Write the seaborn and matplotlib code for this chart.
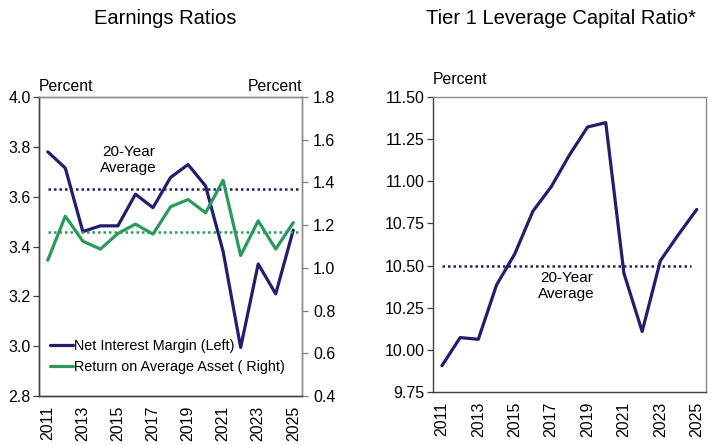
import matplotlib
matplotlib.use("Agg")
import matplotlib.pyplot as plt
import seaborn as sns
import numpy as np
import pandas as pd

# --- data ---
years = list(range(2011, 2026))
nim = [3.78, 3.715, 3.46, 3.483, 3.483, 3.61, 3.556, 3.677, 3.729, 3.643,
       3.38, 2.995, 3.33, 3.21, 3.466]
roa = [1.036, 1.242, 1.125, 1.088, 1.161, 1.205, 1.158, 1.286, 1.32, 1.258,
       1.41, 1.058, 1.22, 1.088, 1.212]
tier1 = [9.906, 10.073, 10.063, 10.385, 10.569, 10.823, 10.967, 11.155, 11.322, 11.348,
         10.454, 10.109, 10.529, 10.685, 10.833]
nim_avg = 3.63
roa_avg = 1.166
tier1_avg = 10.495

navy = "#231d6e"
green = "#2a9a5c"

sns.set_theme(style="white")
plt.rcParams["font.family"] = ["Liberation Sans", "DejaVu Sans"]
plt.rcParams.update({"text.color": "black", "xtick.color": "black", "ytick.color": "black",
                     "xtick.labelcolor": "black", "ytick.labelcolor": "black"})

df = pd.DataFrame({"pos": np.arange(len(years)), "year": years,
                   "nim": nim, "roa": roa, "tier1": tier1})

fig = plt.figure(figsize=(7.25, 4.45), dpi=100)
ax1 = fig.add_axes([0.0538, 0.110, 0.3628, 0.672])
ax3 = fig.add_axes([0.597, 0.119, 0.3766, 0.663])


def style_x(ax):
    ax.set_xlim(-0.5, len(years) - 0.5)
    ax.set_xticks(np.arange(0, len(years), 2))
    ax.set_xticklabels([str(y) for y in years[::2]], rotation=90, fontsize=11.5)
    ax.set_xticks(np.arange(-0.5, len(years), 1), minor=True)
    ax.tick_params(axis="x", which="major", length=0, pad=7)
    ax.tick_params(axis="x", which="minor", length=4, width=0.9, color="#404040", direction="out")
    ax.set_xlabel("")


# --- Earnings Ratios ---
sns.lineplot(data=df, x="pos", y="nim", ax=ax1, color=navy, linewidth=2.3,
             label="Net Interest Margin (Left)", legend=False)
ax1.plot([0, len(years) - 0.6], [nim_avg, nim_avg], color=navy, linewidth=1.8,
         linestyle=(0, (1, 1.2)))
ax1.set_ylim(2.8, 4.0)
ax1.set_yticks(np.arange(2.8, 4.01, 0.2))
ax1.set_yticklabels([f"{v:.1f}" for v in np.arange(2.8, 4.01, 0.2)], fontsize=11.5)
ax1.tick_params(axis="y", length=4, width=0.9, direction="out", left=True, color="#404040", pad=2)
ax1.set_ylabel("")
style_x(ax1)

ax2 = ax1.twinx()
sns.lineplot(data=df, x="pos", y="roa", ax=ax2, color=green, linewidth=2.3,
             label="Return on Average Asset ( Right)", legend=False)
ax2.plot([0, len(years) - 0.6], [roa_avg, roa_avg], color=green, linewidth=1.8,
         linestyle=(0, (1, 1.2)))
ax2.set_ylim(0.4, 1.8)
ax2.set_yticks(np.arange(0.4, 1.81, 0.2))
ax2.set_yticklabels([f"{v:.1f}" for v in np.arange(0.4, 1.81, 0.2)], fontsize=11.5)
ax2.tick_params(axis="y", length=4, width=0.9, direction="out", right=True, color="#808080", pad=4)
ax2.set_ylabel("")
ax2.set_xlim(-0.5, len(years) - 0.5)

for a in (ax1, ax2, ax3):
    for side, sp in a.spines.items():
        sp.set_linewidth(1.0)
        sp.set_color("#404040" if side in ("left", "bottom") else "#8a8a8a")

h1, l1 = ax1.get_legend_handles_labels()
h2, l2 = ax2.get_legend_handles_labels()
ax2.legend(h1 + h2, l1 + l2, loc="lower left", bbox_to_anchor=(0.02, 0.055), frameon=False,
           fontsize=10.4, handlelength=1.6, handletextpad=0.05, labelspacing=0.5, borderaxespad=0)

ax1.text(0.34, 0.79, "20-Year\nAverage", transform=ax1.transAxes, ha="center", va="center",
         fontsize=11, linespacing=1.15)
ax1.text(0.0, 1.01, "Percent", transform=ax1.transAxes, ha="left", va="bottom", fontsize=11.3)
ax1.text(1.0, 1.01, "Percent", transform=ax1.transAxes, ha="right", va="bottom", fontsize=11.3)
fig.text(0.228, 0.958, "Earnings Ratios", ha="center", va="center", fontsize=14.5)

# --- Tier 1 Leverage Capital Ratio ---
sns.lineplot(data=df, x="pos", y="tier1", ax=ax3, color=navy, linewidth=2.3, legend=False)
ax3.plot([0, len(years) - 1.3], [tier1_avg, tier1_avg], color=navy, linewidth=1.8,
         linestyle=(0, (1, 1.2)))
ax3.set_ylim(9.75, 11.5)
ax3.set_yticks(np.arange(9.75, 11.51, 0.25))
ax3.set_yticklabels([f"{v:.2f}" for v in np.arange(9.75, 11.51, 0.25)], fontsize=11.5)
ax3.tick_params(axis="y", length=4, width=0.9, direction="out", left=True, color="#404040", pad=2)
ax3.set_ylabel("")
style_x(ax3)
ax3.text(0.49, 0.36, "20-Year\nAverage", transform=ax3.transAxes, ha="center", va="center",
         fontsize=11, linespacing=1.15)
ax3.text(0.0, 1.035, "Percent", transform=ax3.transAxes, ha="left", va="bottom", fontsize=11.3)
fig.text(0.774, 0.958, "Tier 1 Leverage Capital Ratio*", ha="center", va="center", fontsize=14.5)

fig.savefig("out.png", dpi=100)
